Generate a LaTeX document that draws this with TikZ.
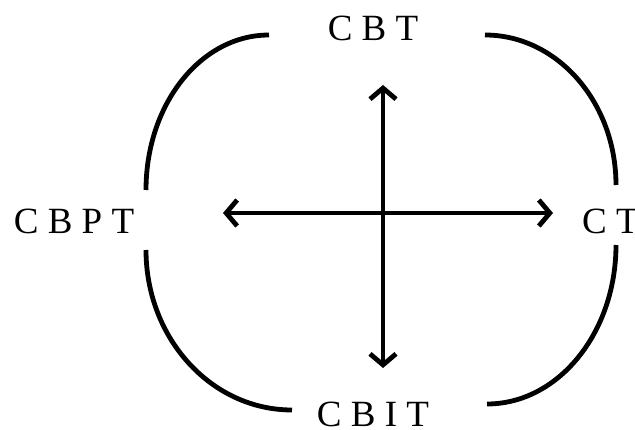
\documentclass[tikz,border=0pt]{standalone}
\usepackage{fontspec}
\setmainfont{Liberation Serif}
\usetikzlibrary{arrows.meta}
\begin{document}
\begin{tikzpicture}[x=1pt,y=-1pt,
  lbl/.style={inner sep=0pt,anchor=base,font=\fontsize{37}{40}\selectfont},
  bracket/.style={line width=4.8pt,line cap=butt},
  axis/.style={line width=4.8pt,{Straight Barb[length=11pt,width=26pt]}-{Straight Barb[length=11pt,width=26pt]}}]
\useasboundingbox (0,0) rectangle (635,430);
% labels
\node[lbl] (cbt) at (373,41) {C B T};
\node[lbl] (cbpt) at (74,234) {C B P T};
\node[lbl,anchor=base west] (ct) at (582,234) {C T};
\node[lbl] (cbit) at (373,427) {C B I T};
% brackets
\draw[bracket] (146,190) .. controls (146,104) and (201,35) .. (269,35);
\draw[bracket] (485,35) .. controls (557,35) and (616,102) .. (616,185);
\draw[bracket] (146,250) .. controls (146,338) and (211,410) .. (292,410);
\draw[bracket] (616,245) .. controls (616,333) and (558,404) .. (487,404);
% axes
\coordinate (l) at (223,213);
\coordinate (r) at (553,213);
\coordinate (u) at (383,85);
\coordinate (d) at (383,368);
\draw[axis] (l) -- (r);
\draw[axis] (u) -- (d);
\end{tikzpicture}
\end{document}
